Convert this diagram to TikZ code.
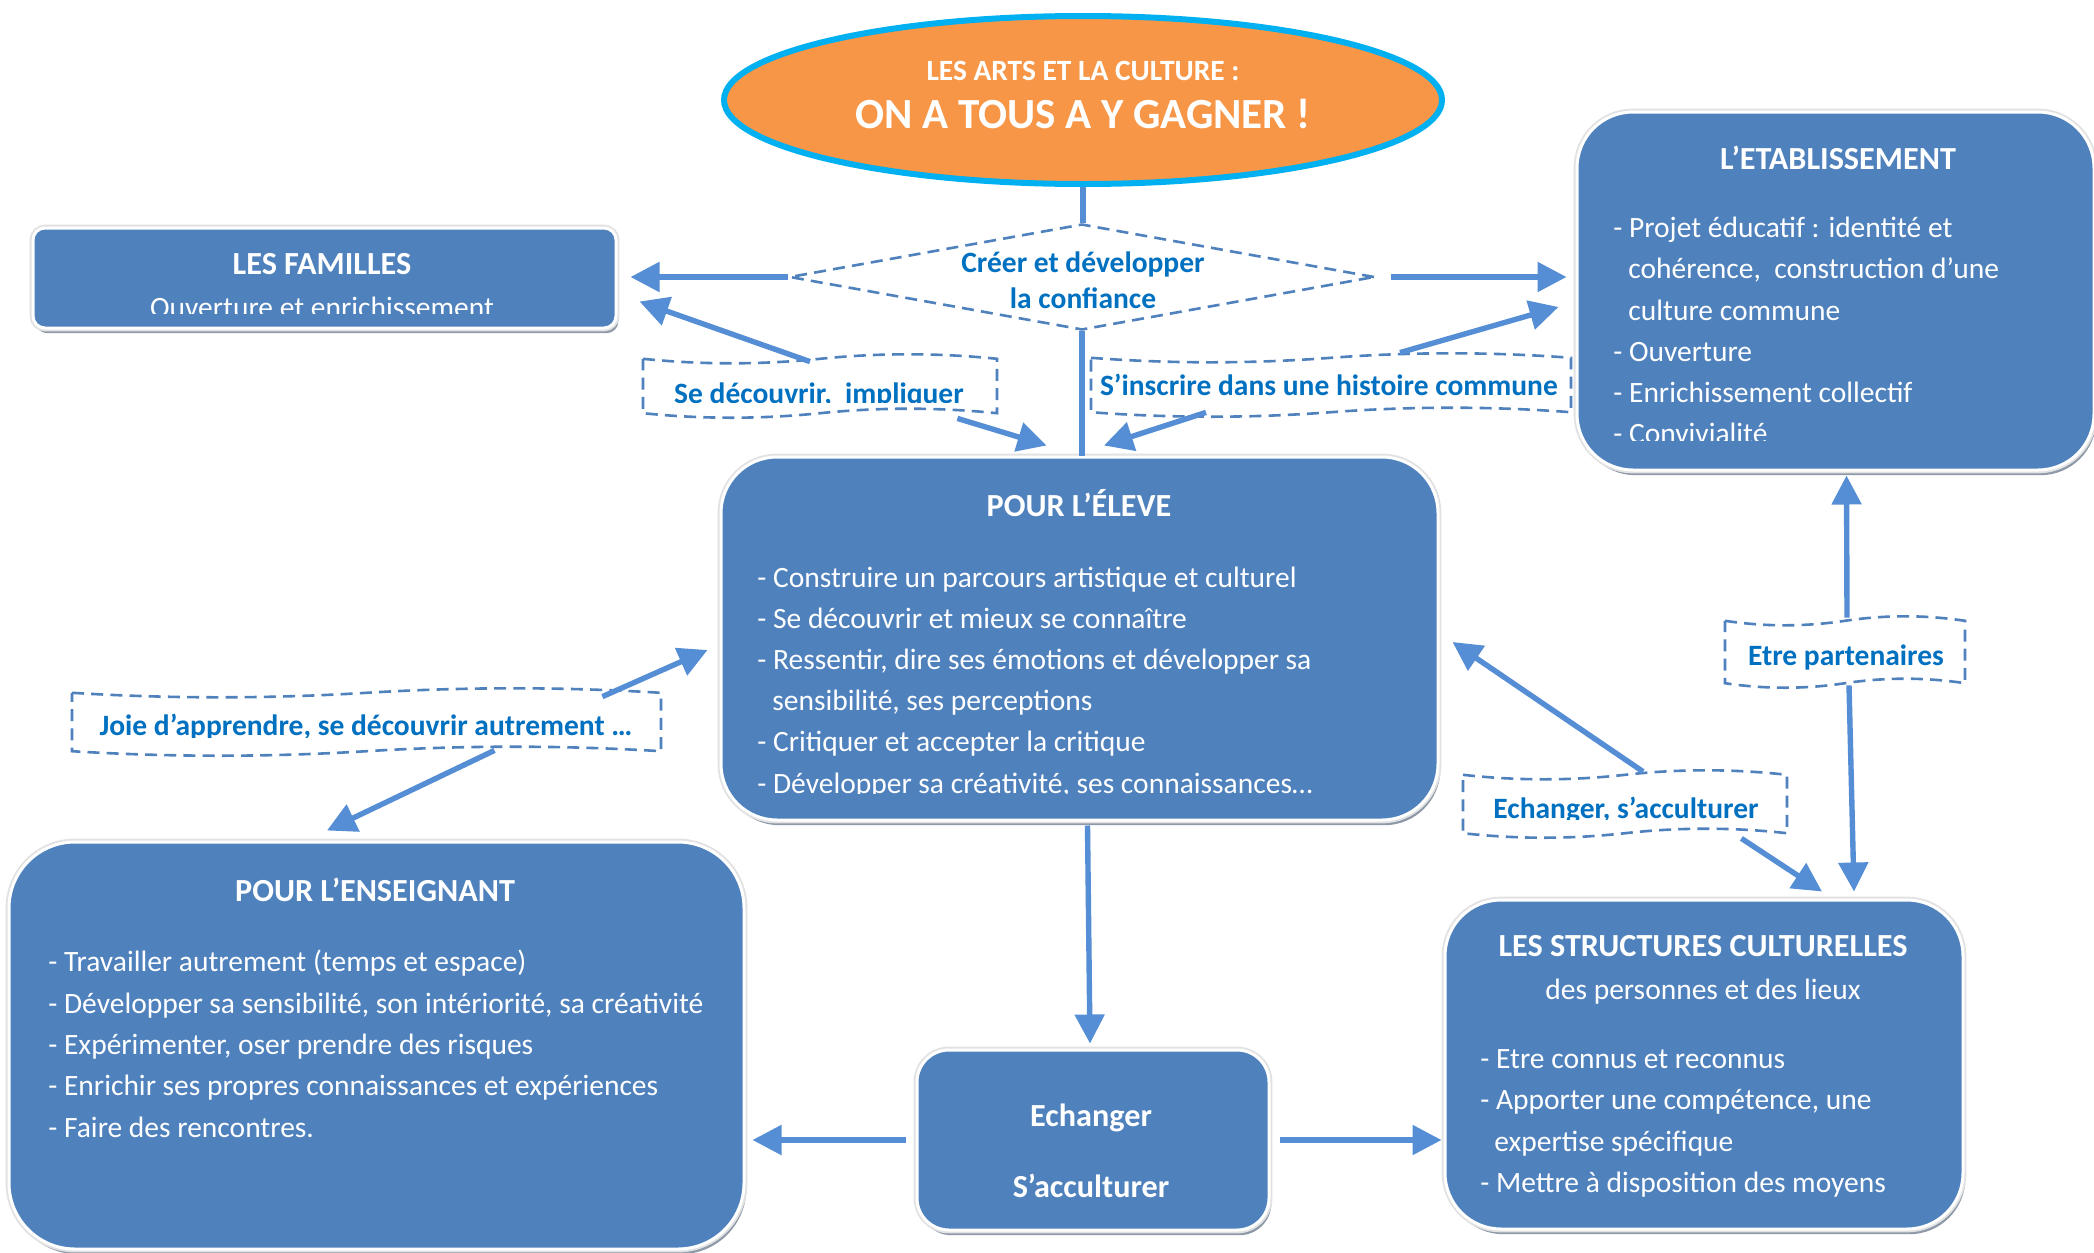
\documentclass[tikz,border=0pt]{standalone}
\usepackage{fontspec}
\setmainfont{Carlito}
\usetikzlibrary{arrows.meta,shapes.geometric,shadows,calc}
\definecolor{boxblue}{HTML}{4F81BD}
\definecolor{arrblue}{HTML}{558ED5}
\definecolor{labtext}{HTML}{0070C0}
\definecolor{dashc}{HTML}{4F81BD}
\definecolor{orangefill}{HTML}{F79646}
\definecolor{cyanline}{HTML}{00B0F0}
\definecolor{shadowc}{HTML}{8D98A8}
\definecolor{haloc}{HTML}{E2E2E2}
\tikzset{
  bbox/.style={rectangle, fill=boxblue, draw=white, line width=1.5pt, inner sep=0pt,
    drop shadow={shadow xshift=1.2pt, shadow yshift=-2.6pt, fill=shadowc, opacity=1},
    preaction={draw=haloc, line width=3.4pt}},
  wavyline/.style={draw=dashc, line width=1.3pt, dash pattern=on 6pt off 3.6pt},
  labnode/.style={rectangle, inner sep=0pt},
  wtxt/.style={inner sep=0pt, anchor=base west, text=white, font=\fontsize{14.75}{17}\selectfont},
  wtitle/.style={inner sep=0pt, anchor=base, text=white, font=\fontsize{16.1}{19}\selectfont\bfseries},
  wctr/.style={inner sep=0pt, anchor=base, text=white, font=\fontsize{14.75}{17}\selectfont},
  ltxt/.style={inner sep=0pt, anchor=base, text=labtext, font=\fontsize{14.75}{17}\selectfont\bfseries},
  arr/.style={draw=arrblue, line width=2.7pt, -{Triangle[length=14.5pt,width=14.5pt]}},
  conn/.style={draw=arrblue, line width=2.7pt}
}
\newcommand{\bluebox}[6]{%
  \node[bbox, rounded corners=#6, minimum width={(#4-#2)*0.5pt}, minimum height={(#5-#3)*0.5pt}]
    (#1) at ({(#2+#4)/2},{(#3+#5)/2}) {};}
\newcommand{\wavelabel}[5]{%
  \node[labnode, minimum width={(#4-#2)*0.5pt}, minimum height={(#5-#3)*0.5pt}]
    (#1) at ({(#2+#4)/2},{(#3+#5)/2}) {};
  \draw[wavyline] (#2,{#3+4.8})
    .. controls ({#2+(#4-#2)/6},{#3+4.8+6}) and ({#2+(#4-#2)/3},{#3+4.8+6}) .. ({(#2+#4)/2},{#3+4.8})
    .. controls ({#2+2*(#4-#2)/3},{#3+4.8-6}) and ({#2+5*(#4-#2)/6},{#3+4.8-6}) .. (#4,{#3+4.8})
    -- (#4,{#5-4.8})
    .. controls ({#2+5*(#4-#2)/6},{#5-4.8-6}) and ({#2+2*(#4-#2)/3},{#5-4.8-6}) .. ({(#2+#4)/2},{#5-4.8})
    .. controls ({#2+(#4-#2)/3},{#5-4.8+6}) and ({#2+(#4-#2)/6},{#5-4.8+6}) .. (#2,{#5-4.8})
    -- cycle;}
\begin{document}
\begin{tikzpicture}[x=0.5pt,y=-0.5pt]
\fill[white] (0,0) rectangle (2094,1253);
\useasboundingbox (0,0) rectangle (2094,1253);

% title ellipse
\node[ellipse, fill=orangefill, draw=cyanline, line width=3pt, minimum width=359pt, minimum height=84pt, inner sep=0pt] (ell) at (1083,100) {};
\node[inner sep=0pt, anchor=base, text=white, font=\fontsize{14.7}{17}\selectfont\bfseries] (ellt1) at (1083,80) {LES ARTS ET LA CULTURE :};
\node[inner sep=0pt, anchor=base, text=white, font=\fontsize{21.5}{25}\selectfont\bfseries] (ellt2) at (1083,128) {ON A TOUS A Y GAGNER !};

% boxes
\bluebox{fam}{33}{228}{616}{328}{6pt}
\bluebox{etab}{1577}{112}{2094}{470}{28pt}
\bluebox{eleve}{721}{457}{1438}{820}{28pt}
\bluebox{ens}{9}{842}{744}{1249}{33pt}
\bluebox{ech}{917}{1050}{1269}{1230}{16pt}
\bluebox{str}{1445}{900}{1963}{1229}{28pt}

% diamond
\node[diamond, wavyline, minimum width=292.5pt, minimum height=53pt, inner sep=0pt] (diam) at (1082,277) {};
\node[ltxt] (diamt1) at (1083,272) {Créer et développer};
\node[ltxt] (diamt2) at (1083,308) {la confiance};

% wavy labels
\wavelabel{lab1}{643}{354}{997}{418}
\wavelabel{lab2}{1091}{353}{1571}{417}
\wavelabel{lab3}{72}{688}{661}{756}
\wavelabel{lab4}{1725}{616}{1965}{688}
\wavelabel{lab5}{1463}{770}{1787}{838}

\begin{scope}
  \clip (643,354) rectangle (997,402);
  \node[ltxt] (lab1t) at (819,403) {Se découvrir,\ \ impliquer};
\end{scope}
\node[ltxt] (lab2t) at (1329,395) {S’inscrire dans une histoire commune};
\begin{scope}
  \clip (72,688) rectangle (661,737);
  \node[ltxt] (lab3t) at (366,735) {Joie d’apprendre, se découvrir autrement …};
\end{scope}
\node[ltxt] (lab4t) at (1846,665) {Etre partenaires};
\begin{scope}
  \clip (1463,770) rectangle (1787,819);
  \node[ltxt] (lab5t) at (1626,818) {Echanger, s’acculturer};
\end{scope}

% LES FAMILLES text
\node[wtitle] (famt) at (322,274) {LES FAMILLES};
\begin{scope}
  \clip (33,228) rectangle (616,313);
  \node[wctr] (fams) at (322,317) {Ouverture et enrichissement};
\end{scope}

% L'ETABLISSEMENT text
\node[wtitle] (etabt) at (1838,169) {L’ETABLISSEMENT};
\node[wtxt] (etab1) at (1613,237) {- Projet éducatif : identité et};
\node[wtxt] (etab2) at (1628,278) {cohérence,\ \ construction d’une};
\node[wtxt] (etab3) at (1628,320) {culture commune};
\node[wtxt] (etab4) at (1613,361) {- Ouverture};
\node[wtxt] (etab5) at (1613,402) {- Enrichissement collectif};
\begin{scope}
  \clip (1577,112) rectangle (2094,440);
  \node[wtxt] (etab6) at (1613,443) {- Convivialité};
\end{scope}

% POUR L'ELEVE text
\node[wtitle] (elevet) at (1079,516) {POUR L’ÉLEVE};
\node[wtxt] (eleve1) at (757,587) {- Construire un parcours artistique et culturel};
\node[wtxt] (eleve2) at (757,628) {- Se découvrir et mieux se connaître};
\node[wtxt] (eleve3) at (757,669) {- Ressentir, dire ses émotions et développer sa};
\node[wtxt] (eleve4) at (772,710) {sensibilité, ses perceptions};
\node[wtxt] (eleve5) at (757,751) {- Critiquer et accepter la critique};
\begin{scope}
  \clip (721,457) rectangle (1438,793);
  \node[wtxt] (eleve6) at (757,793) {- Développer sa créativité, ses connaissances…};
\end{scope}

% POUR L'ENSEIGNANT text
\node[wtitle] (enst) at (375,901) {POUR L’ENSEIGNANT};
\node[wtxt] (ens1) at (48,971) {- Travailler autrement (temps et espace)};
\node[wtxt] (ens2) at (48,1013) {- Développer sa sensibilité, son intériorité, sa créativité};
\node[wtxt] (ens3) at (48,1054) {- Expérimenter, oser prendre des risques};
\node[wtxt] (ens4) at (48,1095) {- Enrichir ses propres connaissances et expériences};
\node[wtxt] (ens5) at (48,1137) {- Faire des rencontres.};

% Echanger box text
\node[wtitle] (echt1) at (1091,1126) {Echanger};
\node[wtitle] (echt2) at (1091,1197) {S’acculturer};

% STRUCTURES text
\node[wtitle] (strt) at (1703,956) {LES STRUCTURES CULTURELLES};
\node[wctr] (strs) at (1703,999) {des personnes et des lieux};
\node[wtxt] (str1) at (1480,1068) {- Etre connus et reconnus};
\node[wtxt] (str2) at (1480,1109) {- Apporter une compétence, une};
\node[wtxt] (str3) at (1494,1151) {expertise spécifique};
\node[wtxt] (str4) at (1480,1192) {- Mettre à disposition des moyens};

% connectors
\draw[conn] (ell.south) -- (ell.south |- diam.north);
\draw[arr, shorten >=6.5pt] (diam.west) -- (diam.west -| fam.east);
\draw[arr, shorten <=7.5pt, shorten >=4.5pt] (diam.east) -- (diam.east -| etab.west);
\draw[conn] (diam.south) -- (diam.south |- eleve.north);
\draw[arr] ($(lab1.north)+(-10,8)$) -- ($(fam.south east)+(22,-28)$);
\draw[arr] ($(lab1.south east)+(-40,0)$) -- ($(eleve.north)+(-33,-10)$);
\draw[arr] ($(lab2.north)+(69,0)$) -- ($(etab.west)+(-17,16)$);
\draw[arr] ($(lab2.south)+(-125,-5)$) -- ($(eleve.north)+(24.5,-10)$);
\draw[arr] ($(lab3.north east)+(-59,9)$) -- ($(eleve.west)+(-12,11.5)$);
\draw[arr] ($(lab3.south)+(128,-6)$) -- ($(ens.north)+(-49.5,-10)$);
\draw[arr] ($(lab4.north)+(2,2)$) -- ($(etab.south)+(11,4)$);
\draw[arr] ($(lab4.south)+(4,-3)$) -- ($(str.north)+(150,-7)$);
\draw[arr] ($(lab5.north)+(18,2)$) -- ($(eleve.east)+(13,3.5)$);
\draw[arr] ($(lab5.south east)+(-46,0)$) -- ($(str.north)+(118,-7)$);
\draw[arr] ($(eleve.south)+(8,4)$) -- ($(ech.north)+(-3,-5)$);
\draw[arr, shorten <=5pt, shorten >=3.5pt] (ech.west) -- (ech.west -| ens.east);
\draw[arr, shorten <=4.5pt, shorten >=1pt] (ech.east) -- (ech.east -| str.west);
\end{tikzpicture}
\end{document}
